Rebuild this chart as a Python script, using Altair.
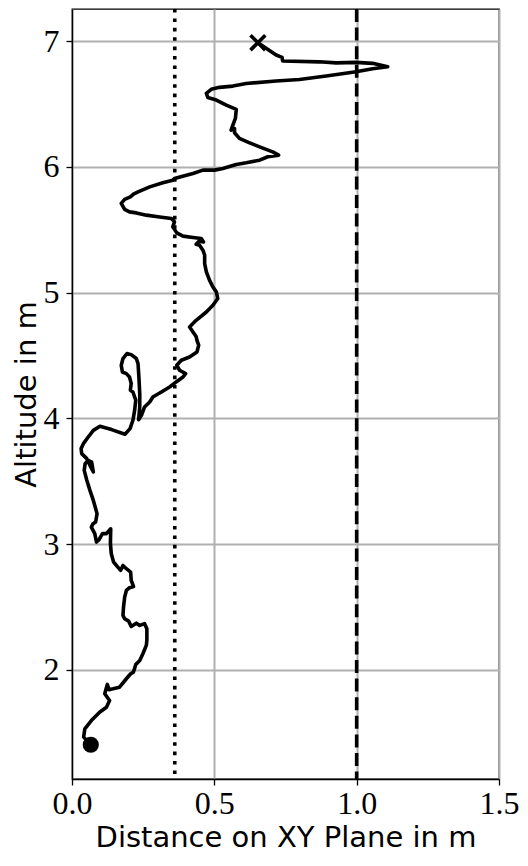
import altair as alt
import pandas as pd

dist = [0.066, 0.041, 0.045, 0.068, 0.097, 0.121, 0.132, 0.115, 0.124, 0.130, 0.144, 0.167, 0.191, 0.206, 0.216, 0.224, 0.238, 0.249, 0.261,
        0.263, 0.263, 0.255, 0.238, 0.226, 0.208, 0.199, 0.185, 0.179, 0.181, 0.185, 0.191, 0.202, 0.216, 0.208, 0.206, 0.191, 0.179, 0.171, 0.161,
        0.146, 0.138, 0.135, 0.136, 0.121, 0.107, 0.095, 0.086, 0.080, 0.068, 0.074, 0.083, 0.088,
        0.075, 0.063, 0.052, 0.043, 0.046, 0.057, 0.069, 0.075, 0.063, 0.052, 0.034, 0.032, 0.040, 0.057, 0.075, 0.098, 0.139, 0.186, 0.204,
        0.214, 0.220, 0.224, 0.214, 0.205, 0.208, 0.202, 0.191, 0.177, 0.173, 0.179, 0.193, 0.208, 0.226, 0.232, 0.235, 0.238, 0.238, 0.234,
        0.244, 0.255, 0.273, 0.284, 0.314, 0.343, 0.366, 0.390, 0.399, 0.378, 0.368, 0.384, 0.413, 0.439, 0.445, 0.439,
        0.436, 0.425, 0.413, 0.436, 0.472, 0.495, 0.512, 0.507, 0.495, 0.483, 0.472, 0.466, 0.466, 0.460, 0.448, 0.436, 0.446, 0.462, 0.454,
        0.425, 0.390, 0.368, 0.354, 0.360, 0.349, 0.308, 0.261, 0.226, 0.202, 0.185, 0.173, 0.185, 0.205, 0.216, 0.232, 0.273, 0.319, 0.354,
        0.360, 0.389, 0.425, 0.460, 0.501, 0.530, 0.577, 0.612, 0.659, 0.688, 0.726, 0.705, 0.659, 0.624, 0.588, 0.571, 0.571, 0.559, 0.565,
        0.574, 0.577, 0.542, 0.507, 0.477, 0.472, 0.489, 0.518, 0.565, 0.612, 0.717, 0.799, 0.893, 0.998, 1.056, 1.109, 1.056, 0.998, 0.928,
        0.869, 0.740, 0.738, 0.717, 0.682, 0.653]
altitude = [1.405, 1.466, 1.532, 1.598, 1.664, 1.704, 1.757, 1.811, 1.885, 1.843, 1.850, 1.863, 1.930, 1.970, 1.983, 2.044, 2.076, 2.129, 2.195,
            2.235, 2.328, 2.368, 2.354, 2.372, 2.346, 2.388, 2.407, 2.434, 2.500, 2.579, 2.632, 2.654, 2.664, 2.712, 2.778, 2.805, 2.831, 2.792, 2.818,
            2.858, 2.924, 3.004, 3.123, 3.084, 3.084, 3.036, 3.017, 3.084, 3.136, 3.163, 3.176, 3.243,
            3.348, 3.428, 3.508, 3.587, 3.640, 3.667, 3.653, 3.574, 3.627, 3.680, 3.720, 3.760, 3.799, 3.852, 3.905, 3.937, 3.911, 3.874, 3.919,
            3.985, 4.064, 4.144, 4.210, 4.224, 4.277, 4.329, 4.356, 4.369, 4.422, 4.476, 4.516, 4.507, 4.476, 4.436, 4.329, 4.197, 4.091, 3.990,
            4.025, 4.091, 4.131, 4.170, 4.210, 4.250, 4.290, 4.329, 4.356, 4.383, 4.422, 4.462, 4.488, 4.528, 4.582, 4.621,
            4.651, 4.687, 4.727, 4.780, 4.846, 4.900, 4.953, 5.006, 5.045, 5.099, 5.165, 5.231, 5.298, 5.337, 5.377, 5.385, 5.409, 5.403, 5.430,
            5.438, 5.449, 5.475, 5.523, 5.563, 5.589, 5.602, 5.616, 5.634, 5.642, 5.661, 5.709, 5.741, 5.761, 5.783, 5.801, 5.841, 5.873, 5.894,
            5.908, 5.926, 5.947, 5.974, 5.974, 5.987, 6.019, 6.032, 6.053, 6.080, 6.093, 6.119, 6.159, 6.191, 6.226, 6.271, 6.305, 6.292, 6.332,
            6.385, 6.457, 6.491, 6.531, 6.552, 6.584, 6.616, 6.632, 6.642, 6.663, 6.682, 6.695, 6.722, 6.756, 6.780, 6.796, 6.823, 6.831, 6.827,
            6.835, 6.841, 6.870, 6.889, 6.942, 6.987]

dotted_x = [0.361]
dashed_x = [1.0]
x_ticks = [0.0, 0.5, 1.0, 1.5]
y_ticks = [2, 3, 4, 5, 6, 7]
x_domain = [0.0, 1.5]
y_domain = [1.133, 7.255]

path = pd.DataFrame({"d": dist, "a": altitude, "i": list(range(len(dist)))})
start = path.iloc[[0]]
end = path.iloc[[-1]]

xs = alt.Scale(domain=x_domain, nice=False, zero=False)
ys = alt.Scale(domain=y_domain, nice=False, zero=False)

common = dict(labelFont="Liberation Serif", labelFontSize=32, labelColor="black",
              titleFont="DejaVu Sans", titleFontSize=29, titleFontWeight="normal", titleColor="black",
              tickColor="black", tickSize=6, tickWidth=1.3, domainColor="black", domainWidth=1.3,
              grid=True, gridColor="#b0b0b0", gridWidth=2, labelFlush=False, labelOverlap=False)

xax = alt.Axis(values=x_ticks, format=".1f", title="Distance on XY Plane in m",
               labelPadding=3, titlePadding=4, **common)
yax = alt.Axis(values=y_ticks, format="d", title="Altitude in m",
               labelPadding=7, titlePadding=2, **common)

LW = 3.6

line = alt.Chart(path).mark_line(color="black", strokeWidth=LW, strokeJoin="round", strokeCap="round").encode(
    x=alt.X("d:Q", scale=xs, axis=xax),
    y=alt.Y("a:Q", scale=ys, axis=yax),
    order="i:Q",
)

dotted = alt.Chart(pd.DataFrame({"x": dotted_x})).mark_rule(
    color="black", strokeWidth=LW, strokeDash=[3.6, 5.8]).encode(x=alt.X("x:Q", scale=xs))
dashed = alt.Chart(pd.DataFrame({"x": dashed_x})).mark_rule(
    color="black", strokeWidth=LW, strokeDash=[13, 5.6]).encode(x=alt.X("x:Q", scale=xs))

start_pt = alt.Chart(start).mark_point(shape="circle", filled=True, color="black", size=260, opacity=1).encode(
    x=alt.X("d:Q", scale=xs), y=alt.Y("a:Q", scale=ys))
end_pt = alt.Chart(end).mark_point(shape="M-1,-1L1,1M1,-1L-1,1", filled=False, color="black",
                                   strokeWidth=LW, size=220, opacity=1).encode(
    x=alt.X("d:Q", scale=xs), y=alt.Y("a:Q", scale=ys))

chart = alt.layer(dotted, dashed, line, start_pt, end_pt).properties(
    width=427, height=770,
    autosize=alt.AutoSizeParams(type="none"),
    padding={"left": 72, "top": 9, "right": 29, "bottom": 87},
    background="white",
).configure_view(stroke="black", strokeWidth=1.3)

chart.save("out.html", embed_options={"renderer": "svg", "actions": False})
